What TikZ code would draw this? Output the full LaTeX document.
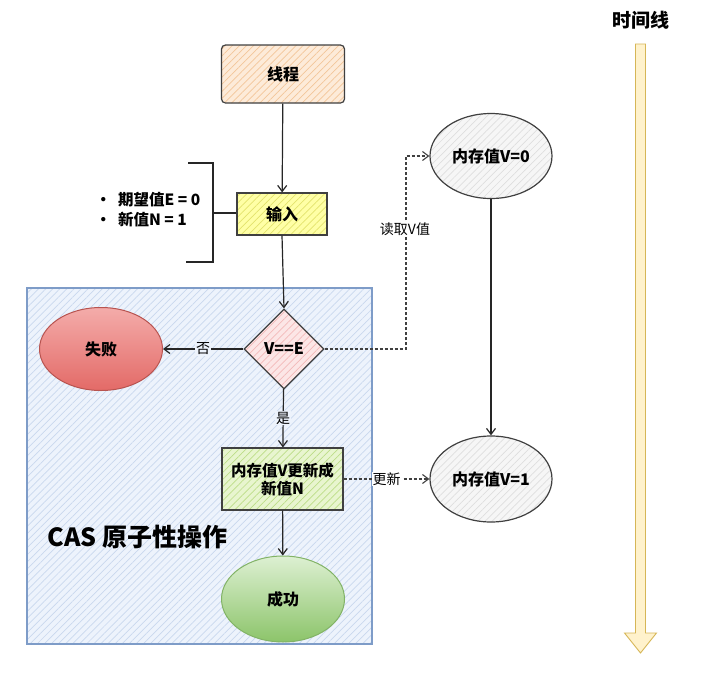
\documentclass[tikz,border=0pt]{standalone}
\usepackage{fontspec}
\setmainfont{Noto Sans CJK SC}
\usetikzlibrary{arrows.meta,shapes.geometric,patterns.meta}
\definecolor{casfill}{HTML}{EDF3FC}
\definecolor{casline}{HTML}{C9D8EE}
\definecolor{casborder}{HTML}{7E9CC8}
\definecolor{thrfill}{HTML}{FDEBD9}
\definecolor{thrline}{HTML}{F3C699}
\definecolor{infill}{HTML}{FFFFA6}
\definecolor{inline}{HTML}{E3E36C}
\definecolor{dfill}{HTML}{FCE6E6}
\definecolor{dline}{HTML}{F3B9B9}
\definecolor{upfill}{HTML}{E8F5CF}
\definecolor{upline}{HTML}{BCDD88}
\definecolor{memfill}{HTML}{F6F6F6}
\definecolor{memline}{HTML}{DEDEDE}
\definecolor{tlfill}{HTML}{FFF2CC}
\definecolor{tlborder}{HTML}{D6B656}
\definecolor{failtop}{HTML}{F4ACAA}
\definecolor{failbot}{HTML}{E36A67}
\definecolor{failborder}{HTML}{B85450}
\definecolor{oktop}{HTML}{DDF0D2}
\definecolor{okbot}{HTML}{8CC46A}
\definecolor{okborder}{HTML}{82B366}
\begin{document}
\begin{tikzpicture}[x=1pt,y=-1pt,
  hatch/.style 2 args={preaction={fill=#1},pattern={Lines[angle=45,distance=5pt,line width=0.7pt]},pattern color=#2},
  txt/.style={font=\bfseries\fontsize{16}{19}\selectfont},
  boxnode/.style={draw=black!75,line width=1.2pt,inner sep=2pt,align=center,txt},
  arr/.style={draw=black!85,line width=1.2pt,-{Straight Barb[length=6pt,width=9pt]}},
  dasharr/.style={draw=black!75,line width=1.1pt,densely dashed,-{Straight Barb[length=6pt,width=9pt]}},
  lbl/.style={font=\fontsize{14}{16}\selectfont,inner sep=1pt}
]
\useasboundingbox (0,0) rectangle (716,681);
% CAS region
\node[draw=casborder,line width=1.2pt,hatch={casfill}{casline},minimum width=345,minimum height=356,inner sep=0] (casbox) at (199.5,466) {};
\node[font=\bfseries\fontsize{25}{29}\selectfont,anchor=west] (caslabel) at (44,537) {CAS 原子性操作};
% nodes
\node[boxnode,rounded corners=4pt,hatch={thrfill}{thrline},minimum width=123,minimum height=58] (thread) at (283,74) {线程};
\node[boxnode,hatch={infill}{inline},minimum width=90,minimum height=42] (input) at (282,214) {输入};
\node[boxnode,diamond,aspect=1,hatch={dfill}{dline},minimum width=80,minimum height=80,inner sep=0] (check) at (284,349) {V==E};
\node[draw=failborder,line width=1pt,ellipse,top color=failtop,bottom color=failbot,minimum width=123,minimum height=83,txt] (fail) at (101,349) {失败};
\node[boxnode,hatch={upfill}{upline},minimum width=121,minimum height=62,font=\bfseries\fontsize{15.5}{18}\selectfont] (update) at (282.5,479) {内存值V更新成\\新值N};
\node[draw=okborder,line width=1pt,ellipse,top color=oktop,bottom color=okbot,minimum width=123,minimum height=86,txt] (success) at (283,599) {成功};
\node[boxnode,ellipse,hatch={memfill}{memline},minimum width=122,minimum height=85] (mem0) at (491,156) {内存值V=0};
\node[boxnode,ellipse,hatch={memfill}{memline},minimum width=122,minimum height=86] (mem1) at (491,479) {内存值V=1};
% parameters
\node[anchor=west,align=left,font=\bfseries\fontsize{15.5}{20}\selectfont] (params) at (92,210) {•\hspace{7pt}期望值E = 0\\•\hspace{7pt}新值N = 1};
\coordinate (brt) at (188,163);
\coordinate (brtr) at (213,163);
\coordinate (brbr) at (213,262);
\coordinate (brb) at (186,262);
\coordinate (brm) at (213,213);
\draw[black!85,line width=1.2pt] (brt) -- (brtr) -- (brbr) -- (brb);
\draw[black!85,line width=1.2pt] (brm) -- (input.west |- brm);
% connectors
\draw[arr] (thread) -- (input);
\draw[arr] (input.south) -- (check.north);
\draw[arr] (check) -- node[lbl,fill=casfill] (nolbl) {否} (fail);
\draw[arr] (check) -- node[lbl,fill=casfill] (yeslbl) {是} (update);
\draw[arr] (update) -- (success);
\draw[arr] (mem0) -- (mem1);
\coordinate (rdc) at (406,156);
\draw[dasharr] (check.east) -| (rdc) -- (mem0.west);
\node[lbl,fill=white] (readlbl) at (405,229) {读取V值};
\draw[dasharr] (update) -- node[lbl,fill=white] (updlbl) {更新} (mem1);
% time line
\draw[draw=tlborder,fill=tlfill,line width=0.9pt] (635.5,44) -- (645.5,44) -- (645.5,633) -- (656.5,633) -- (640.5,653) -- (624.5,633) -- (635.5,633) -- cycle;
\node[font=\bfseries\fontsize{19}{22}\selectfont] (tltitle) at (641,20) {时间线};
\end{tikzpicture}
\end{document}
